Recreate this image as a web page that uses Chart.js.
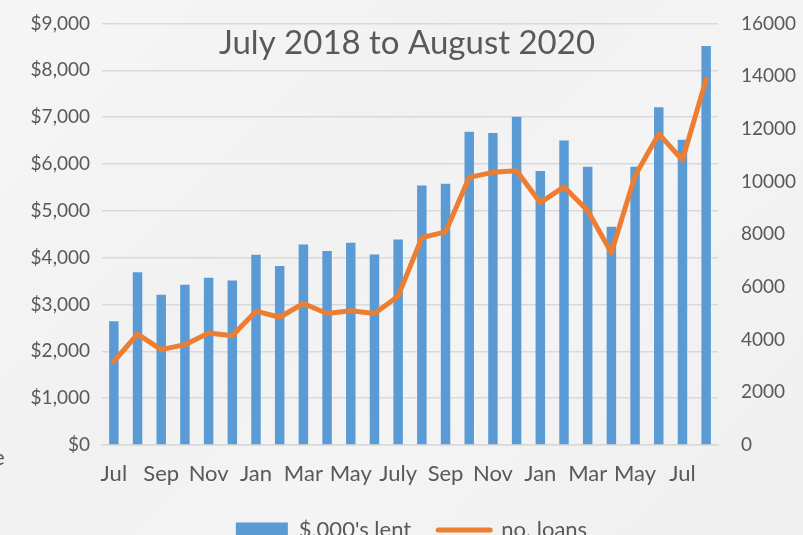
<!DOCTYPE html>
<html>
<head>
<meta charset="utf-8">
<script src="https://cdn.jsdelivr.net/npm/chart.js@4.4.0/dist/chart.umd.min.js"></script>
<style>
  html, body { margin: 0; padding: 0; }
  body {
    width: 803px; height: 535px; overflow: hidden; position: relative;
    background: linear-gradient(135deg, #f6f6f6 0%, #f1f1f1 40%, #f4f4f4 60%, #efefef 100%);
    font-family: Lato, "Open Sans", sans-serif;
  }
  #wrap { position: absolute; left: 0; top: 0; width: 803px; height: 535px; }
  .stray { position: absolute; left: -7px; top: 443px; font-size: 22px; color: #595959; }
</style>
</head>
<body>
<span class="stray">e</span>
<div id="wrap"><canvas id="loansChart" width="803" height="535"></canvas></div>
<script>
const months = ["Jul", "Aug", "Sep", "Oct", "Nov", "Dec", "Jan", "Feb", "Mar", "Apr", "May", "Jun",
    "July", "Aug", "Sep", "Oct", "Nov", "Dec", "Jan", "Feb", "Mar", "Apr", "May", "Jun", "Jul", "Aug"];
const amountLent = [2640, 3690, 3210, 3420, 3570, 3510, 4060, 3820, 4280, 4140, 4320, 4070, 4390,
    5540, 5580, 6690, 6660, 7010, 5850, 6500, 5940, 4660, 5940, 7210, 6520, 8520];
const loanCount = [3170, 4210, 3620, 3810, 4250, 4150, 5080, 4850, 5370, 4990, 5100, 4990, 5650,
    7870, 8090, 10160, 10350, 10410, 9200, 9800, 8890, 7300, 10220, 11810, 10820, 13880];
const titleText = "July 2018 to August 2020";

const textColor = "#595959";
const fontFamily = "Lato, 'Open Sans', sans-serif";

// title sits inside the plot area, between the top two gridlines
const insideTitle = {
    id: "insideTitle",
    beforeDatasetsDraw(chart) {
        const { ctx } = chart;
        ctx.save();
        ctx.font = "33px " + fontFamily;
        ctx.fillStyle = textColor;
        ctx.textAlign = "center";
        ctx.textBaseline = "alphabetic";
        ctx.fillText(titleText, 407, 54);
        ctx.restore();
    }
};

// y axes: fixed width, no extra top/bottom padding from the tick labels
function fixY(width) {
    return (scale) => {
        scale.width = width;
        scale.paddingTop = 0;
        scale.paddingBottom = 0;
    };
}

const ctx = document.getElementById("loansChart").getContext("2d");
new Chart(ctx, {
    data: {
        labels: months,
        datasets: [
            {
                type: "line",
                label: "no. loans",
                data: loanCount,
                yAxisID: "yLoans",
                borderColor: "#ed7d31",
                backgroundColor: "#ed7d31",
                borderWidth: 5,
                pointRadius: 0,
                tension: 0,
                borderJoinStyle: "round",
                borderCapStyle: "round",
                order: 0
            },
            {
                type: "bar",
                label: "$,000's lent",
                data: amountLent,
                yAxisID: "yLent",
                backgroundColor: "#5b9bd5",
                barPercentage: 0.4,
                categoryPercentage: 1,
                order: 1
            }
        ]
    },
    plugins: [insideTitle],
    options: {
        responsive: false,
        animation: false,
        layout: { padding: { top: 23.5, left: 20, right: 0, bottom: -16 } },
        scales: {
            x: {
                grid: { display: false, drawTicks: false },
                border: { display: true, color: "#d9d9d9", width: 1.5 },
                ticks: {
                    autoSkip: false,
                    maxRotation: 0,
                    padding: 16,
                    color: textColor,
                    font: { family: fontFamily, size: 22 },
                    callback: (val, i) => (i % 2 === 0 ? months[i] : "")
                },
                afterFit: (scale) => { scale.height = 47; }
            },
            yLent: {
                position: "left",
                min: 0,
                max: 9000,
                ticks: {
                    stepSize: 1000,
                    padding: 12,
                    color: textColor,
                    font: { family: fontFamily, size: 19 },
                    callback: (v) => "$" + v.toLocaleString("en-US")
                },
                grid: { color: "#d9d9d9", lineWidth: 1.5, drawTicks: false },
                border: { display: false },
                afterFit: fixY(82)
            },
            yLoans: {
                position: "right",
                min: 0,
                max: 16000,
                ticks: {
                    stepSize: 2000,
                    padding: 23,
                    color: textColor,
                    font: { family: fontFamily, size: 19 },
                    callback: (v) => String(v)
                },
                grid: { display: false, drawTicks: false },
                border: { display: false },
                afterFit: fixY(85)
            }
        },
        plugins: {
            title: { display: false },
            tooltip: { enabled: false },
            legend: {
                position: "bottom",
                reverse: true,
                labels: {
                    color: textColor,
                    font: { family: fontFamily, size: 22 },
                    padding: 27,
                    boxWidth: 52,
                    boxHeight: 15,
                    usePointStyle: true,
                    pointStyleWidth: 52,
                    generateLabels(chart) {
                        const items = Chart.defaults.plugins.legend.labels.generateLabels(chart);
                        items.forEach((it) => {
                            if (it.text === "no. loans") {
                                it.pointStyle = "line";
                                it.lineWidth = 5;
                                it.strokeStyle = "#ed7d31";
                                it.lineCap = "round";
                            } else {
                                it.pointStyle = "rect";
                                it.lineWidth = 0;
                                it.fillStyle = "#5b9bd5";
                                it.strokeStyle = "#5b9bd5";
                            }
                        });
                        return items;
                    }
                }
            }
        }
    }
});
</script>
</body>
</html>
